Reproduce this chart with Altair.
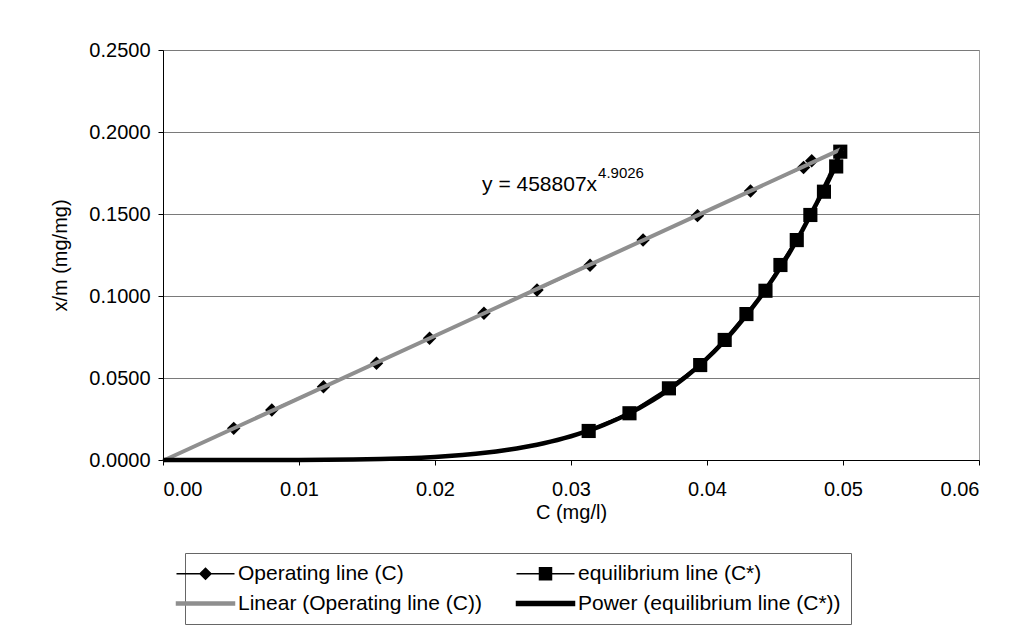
import altair as alt
import pandas as pd

# Operating line (C) points
op_c = [0.0052, 0.0080, 0.0118, 0.0157, 0.0196, 0.0236, 0.0275, 0.0314, 0.0353, 0.0393, 0.0432, 0.0471, 0.0477]
op_q = [0.0193, 0.0305, 0.0447, 0.0590, 0.0742, 0.0895, 0.1037, 0.1187, 0.1341, 0.1490, 0.1640, 0.1784, 0.1825]

# Equilibrium line (C*) points
eq_c = [0.0313, 0.0343, 0.0372, 0.0395, 0.0413, 0.0429, 0.0443, 0.0454, 0.0466, 0.0476, 0.0486, 0.0495, 0.0498]
eq_q = [0.0177, 0.0285, 0.0437, 0.0579, 0.0732, 0.0890, 0.1032, 0.1189, 0.1341, 0.1494, 0.1636, 0.1790, 0.1880]

trend_extent = [0.0, 0.05]

x_ticks = [0.0, 0.01, 0.02, 0.03, 0.04, 0.05, 0.06]
y_ticks = [0.0, 0.05, 0.10, 0.15, 0.20, 0.25]

eq_label_main = ["y = 458807x"]
eq_label_sup = ["4.9026"]
eq_label_pos = [0.02346, 0.1640]

legend_names = ["Operating line (C)", "equilibrium line (C*)",
                "Linear (Operating line (C))", "Power (equilibrium line (C*))"]
legend_colors = ["#000000", "#000000", "#8f8f8f", "#000000"]
legend_shapes = [
    "M-5.8,0H5.8M0,-1.1L1.1,0L0,1.1L-1.1,0Z",
    "M-5.8,0H5.8M-1.2,-1.2H1.2V1.2H-1.2Z",
    "M-5.8,-0.3H5.8V0.3H-5.8Z",
    "M-5.8,-0.4H5.8V0.4H-5.8Z",
]

FONT = "Liberation Sans"

op_df = pd.DataFrame({"C": op_c, "q": op_q})
eq_df = pd.DataFrame({"C": eq_c, "q": eq_q})
lab_df = pd.DataFrame({"C": [eq_label_pos[0]], "q": [eq_label_pos[1]],
                       "main": eq_label_main, "sup": eq_label_sup})
leg_df = pd.DataFrame({"s": legend_names})

xs = alt.Scale(domain=[x_ticks[0], x_ticks[-1]], nice=False, zero=False)
ys = alt.Scale(domain=[y_ticks[0], y_ticks[-1]], nice=False, zero=False)

x_axis = alt.Axis(values=x_ticks, format=".2f", title="C (mg/l)", grid=False,
                  labelFontSize=20, titleFontSize=20, labelFont=FONT, titleFont=FONT,
                  labelColor="#000", titleColor="#000", domainColor="#000", tickColor="#000",
                  tickSize=5, labelPadding=14, titlePadding=3, titleFontWeight="normal")
y_axis = alt.Axis(values=y_ticks, format=".4f", title="x/m (mg/mg)", grid=True,
                  gridColor="#7a7a7a", gridWidth=1,
                  labelFontSize=20, titleFontSize=20, labelFont=FONT, titleFont=FONT,
                  labelColor="#000", titleColor="#000", domainColor="#000", tickColor="#000",
                  tickSize=5, labelPadding=8, titlePadding=18, titleFontWeight="normal")

X = alt.X("C:Q", scale=xs, axis=x_axis)
Y = alt.Y("q:Q", scale=ys, axis=y_axis)
Xn = alt.X("C:Q", scale=xs)
Yn = alt.Y("q:Q", scale=ys)

op_line = alt.Chart(op_df).mark_line(color="#000", strokeWidth=1.5).encode(x=X, y=Y)
op_pts = alt.Chart(op_df).mark_point(shape="diamond", filled=True, color="#000", size=180, opacity=1).encode(x=Xn, y=Yn)

eq_line = alt.Chart(eq_df).mark_line(color="#000", strokeWidth=3).encode(x=Xn, y=Yn)
eq_pts = alt.Chart(eq_df).mark_point(shape="square", filled=True, color="#000", size=200, opacity=1).encode(x=Xn, y=Yn)

lin_trend = alt.Chart(op_df).transform_regression(
    "C", "q", method="linear", extent=trend_extent
).mark_line(color="#8f8f8f", strokeWidth=4).encode(x=Xn, y=Yn)

pow_trend = alt.Chart(eq_df).transform_regression(
    "C", "q", method="pow", extent=trend_extent
).mark_line(color="#000", strokeWidth=4.5).encode(x=Xn, y=Yn)

txt_main = alt.Chart(lab_df).mark_text(align="left", baseline="alphabetic", font=FONT,
                                       fontSize=21, color="#000").encode(x=Xn, y=Yn, text="main:N")
txt_sup = alt.Chart(lab_df).mark_text(align="left", baseline="alphabetic", font=FONT,
                                      fontSize=15, color="#000", dx=116, dy=-13).encode(x=Xn, y=Yn, text="sup:N")

leg = alt.Legend(title=None, orient="none", legendX=22, legendY=503, columns=2,
                 direction="horizontal",
                 columnPadding=31, rowPadding=8, labelFont=FONT, labelFontSize=21,
                 labelColor="#000", symbolSize=100, labelOffset=22, padding=10,
                 strokeColor="#666", symbolOpacity=1, symbolStrokeWidth=1.5, labelLimit=400)
dom = legend_names
legend_layer = alt.Chart(leg_df).mark_point(opacity=0, filled=True).encode(
    fill=alt.Fill("s:N", scale=alt.Scale(domain=dom, range=legend_colors), legend=leg),
    stroke=alt.Stroke("s:N", scale=alt.Scale(domain=dom, range=legend_colors), legend=leg),
    shape=alt.Shape("s:N", scale=alt.Scale(domain=dom, range=legend_shapes), legend=leg),
)

chart = alt.layer(
    op_line, op_pts, eq_line, eq_pts, lin_trend, pow_trend, txt_main, txt_sup, legend_layer
).properties(
    width=816, height=410,
    autosize=alt.AutoSizeParams(type="none"),
    padding={"left": 163, "top": 50, "right": 33, "bottom": 171},
    background="white",
).configure_view(
    stroke="#9a9a9a", strokeWidth=1
)

chart.save("out.html", embed_options={"renderer": "svg", "actions": False})
